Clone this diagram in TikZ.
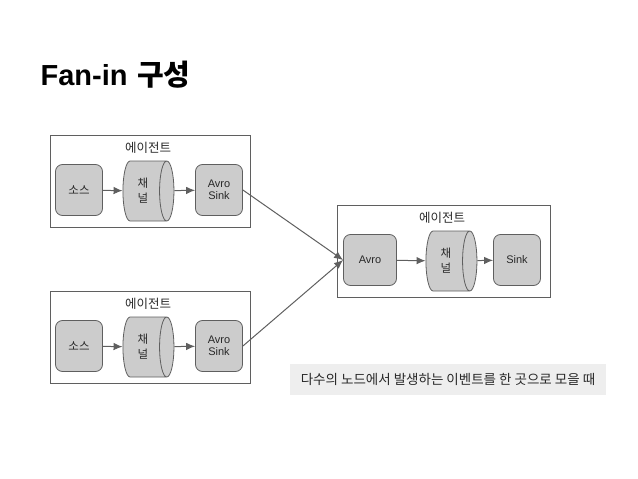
\documentclass[tikz,border=0pt]{standalone}
\usepackage{fontspec}
\setmainfont{Liberation Sans}
\newfontfamily\kr{Noto Sans CJK KR}
\usepackage{xcolor}
\usetikzlibrary{arrows.meta}
\usetikzlibrary{shapes.geometric, math}
\definecolor{boxgray}{RGB}{204, 204, 204}
\definecolor{linegray}{RGB}{95, 95, 95}
\definecolor{notegray}{RGB}{238, 238, 238}
\definecolor{textgray}{RGB}{40, 40, 40}

\tikzset{
  comp/.style={draw=linegray, fill=boxgray, rounded corners=7pt, line width=0.8,
    minimum width=47pt, minimum height=51pt, align=center, text=textgray,
    font=\fontsize{11}{12.5}\selectfont},
  chan/.style={cylinder, draw=linegray, fill=boxgray, line width=0.8,
    minimum width=60pt, minimum height=51pt, shape aspect=0.45, align=center,
    text=textgray, font=\kr\fontsize{11.5}{15}\selectfont},
  agent/.style={draw=linegray, line width=0.9},
  agentlabel/.style={text=textgray, font=\kr\fontsize{12.5}{14}\selectfont},
  flow/.style={-{Latex[length=9pt, width=7.5pt]}, draw=linegray, line width=1},
}

\begin{document}
\begin{tikzpicture}[x=1pt, y=-1pt]
\tikzmath{
\dy=156;
}
\useasboundingbox (0,0) rectangle (638,479);

\node[anchor=base west, font=\fontsize{29}{34}\selectfont\bfseries] (title) at (37,85) {Fan-in\,\,{\kr 구성}};

% agent 1
\draw[agent] (50,135) rectangle (250,227);
\node[agentlabel] (lab1) at (148,148) {에이전트};
\node[comp, font=\kr\fontsize{11.5}{12.5}\selectfont] (src1) at (79,190) {소스};
\node[chan] (ch1) at (143,191) {채\\널};
\node[comp] (snk1) at (219,190) {Avro\\Sink};
\draw[flow] (src1) -- (ch1);
\draw[flow] (ch1) -- (snk1);

% agent 2
\draw[agent] (50,135+\dy) rectangle (250,227+\dy);
\node[agentlabel] (lab2) at (148,148+\dy) {에이전트};
\node[comp, font=\kr\fontsize{11.5}{12.5}\selectfont] (src2) at (79,190+\dy) {소스};
\node[chan] (ch2) at (143,191+\dy) {채\\널};
\node[comp] (snk2) at (219,190+\dy) {Avro\\Sink};
\draw[flow] (src2) -- (ch2);
\draw[flow] (ch2) -- (snk2);

% collector
\draw[agent] (337,205) rectangle (550,297);
\node[agentlabel] (lab3) at (442,218) {에이전트};
\node[comp, minimum width=53pt] (avro) at (370,260) {Avro};
\node[chan] (ch3) at (446,261) {채\\널};
\node[comp] (snk3) at (517,260) {Sink};
\draw[flow] (avro) -- (ch3);
\draw[flow] (ch3) -- (snk3);

\draw[flow] (snk1.east) -- (avro.west);
\draw[flow] (snk2.east) -- (avro.west);

\node[fill=notegray, minimum width=316pt, minimum height=31pt, text=textgray,
  font=\kr\fontsize{13.5}{15}\selectfont] (note) at (448,379)
  {다수의 노드에서 발생하는 이벤트를 한 곳으로 모을 때};

\end{tikzpicture}
\end{document}
